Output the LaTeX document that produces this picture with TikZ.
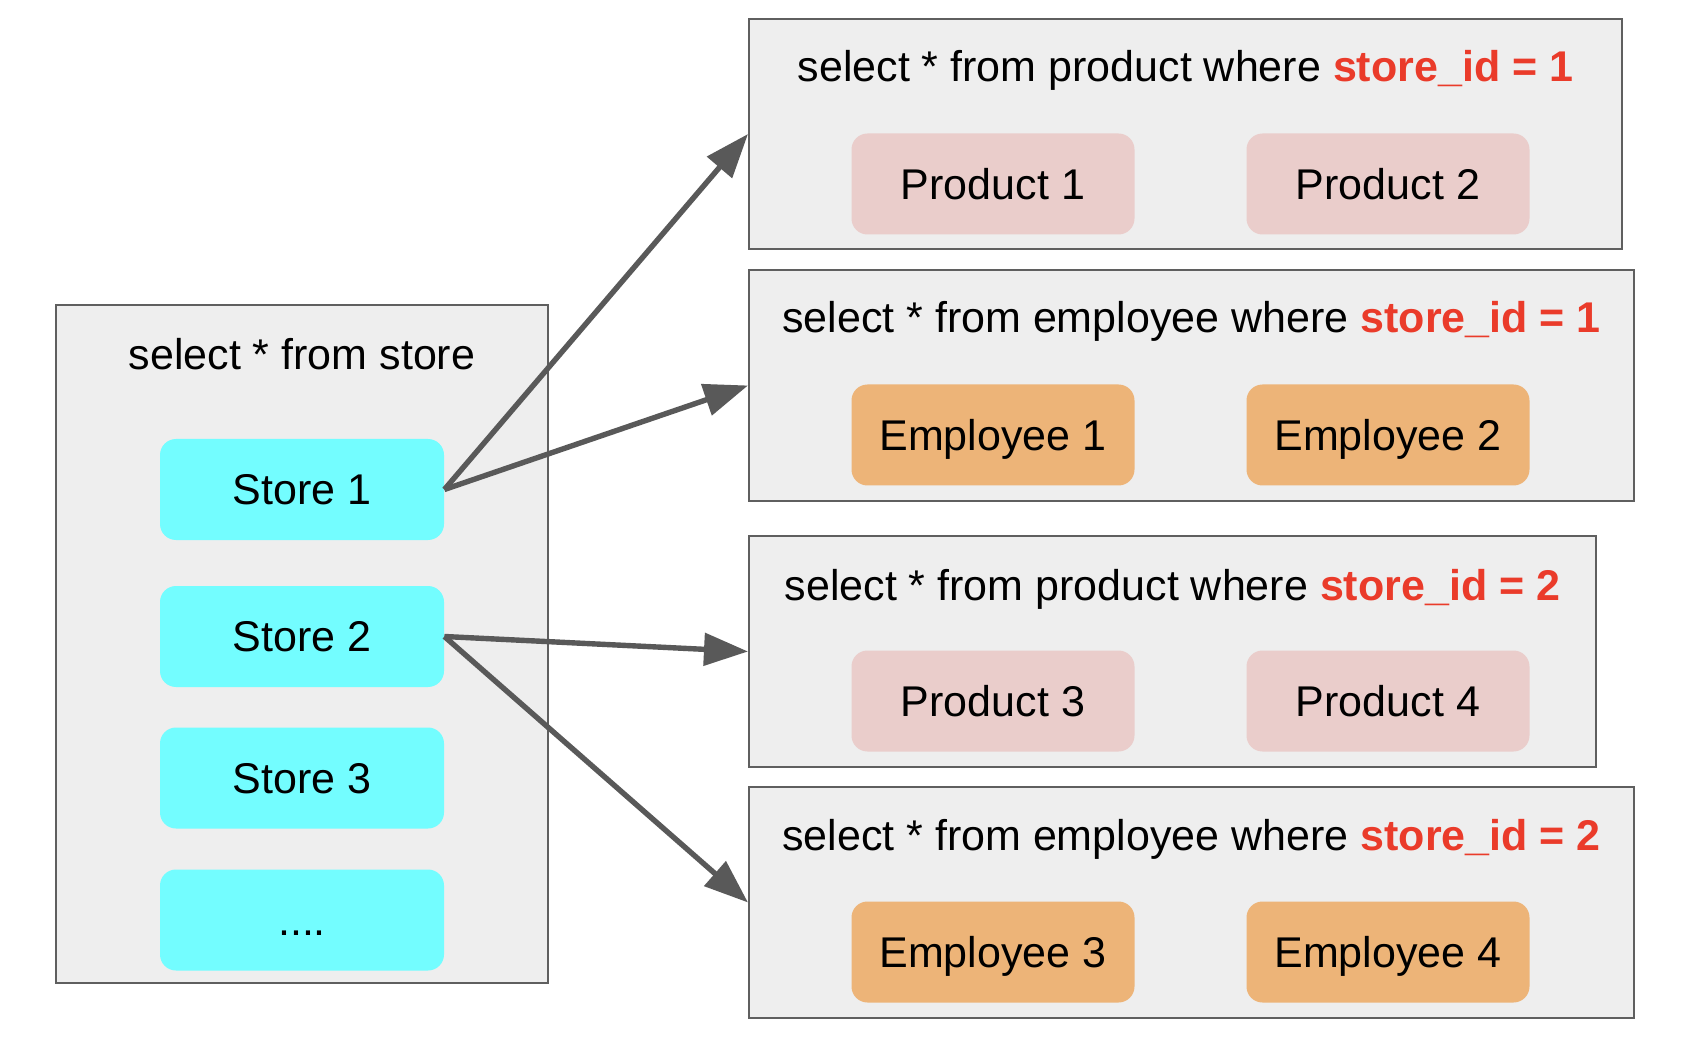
\documentclass[tikz,border=0pt]{standalone}
\usepackage{fontspec}
\setmainfont{Liberation Sans}
\usetikzlibrary{arrows.meta}
\definecolor{boxfill}{HTML}{EEEEEE}
\definecolor{boxline}{HTML}{5F5F5F}
\definecolor{storefill}{HTML}{73FDFF}
\definecolor{prodfill}{HTML}{EACDCB}
\definecolor{empfill}{HTML}{EDB478}
\definecolor{keyred}{HTML}{EA3B2A}
\definecolor{arrowgrey}{HTML}{595959}
\tikzset{
  groupbox/.style={draw=boxline, fill=boxfill, line width=1pt, inner sep=0pt},
  itembox/.style={rounded corners=8pt, inner sep=0pt, minimum width=141.5pt, minimum height=50.5pt,
                  text height=15.4pt, text depth=0pt,
                  font=\fontsize{21.5}{26}\selectfont},
  storebox/.style={itembox, fill=storefill, minimum width=142pt},
  prodbox/.style={itembox, fill=prodfill},
  empbox/.style={itembox, fill=empfill},
  titletext/.style={anchor=base, inner sep=0pt, font=\fontsize{21.5}{26}\selectfont},
  conn/.style={draw=arrowgrey, line width=2.7pt, -{Triangle[length=22pt,width=16pt]}},
}
\newcommand{\redkey}[1]{\textcolor{keyred}{\bfseries #1}}
\begin{document}
\begin{tikzpicture}[x=0.5pt,y=-0.5pt]
\useasboundingbox (0,0) rectangle (1694,1048);
\fill[white] (0,0) rectangle (1694,1048);

% left group
\node[groupbox, minimum width=246pt, minimum height=339pt] (L) at (302,644) {};
\node[titletext] (lt) at (302,370) {select * from store};
\node[storebox] (s1) at (302,489.5) {Store 1};
\node[storebox] (s2) at (302,636.5) {Store 2};
\node[storebox] (s3) at (302,778) {Store 3};
\node[storebox] (s4) at (302,920) {....};

% right groups
\node[groupbox, minimum width=436.5pt, minimum height=115pt] (b1) at (1185.5,134) {};
\node[titletext] (t1) at (1185.5,82) {select * from product where \redkey{store\_id = 1}};
\node[prodbox] (p1) at (993,184) {Product 1};
\node[prodbox] (p2) at (1388,184) {Product 2};

\node[groupbox, minimum width=442.5pt, minimum height=115.5pt] (b2) at (1191.5,385.5) {};
\node[titletext] (t2) at (1191.5,333) {select * from employee where \redkey{store\_id = 1}};
\node[empbox] (e1) at (993,435) {Employee 1};
\node[empbox] (e2) at (1388,435) {Employee 2};

\node[groupbox, minimum width=423.5pt, minimum height=115.5pt] (b3) at (1172.5,651.5) {};
\node[titletext] (t3) at (1172.5,600) {select * from product where \redkey{store\_id = 2}};
\node[prodbox] (p3) at (993,701) {Product 3};
\node[prodbox] (p4) at (1388,701) {Product 4};

\node[groupbox, minimum width=442.5pt, minimum height=115.5pt] (b4) at (1191.5,902.5) {};
\node[titletext] (t4) at (1191.5,850) {select * from employee where \redkey{store\_id = 2}};
\node[empbox] (e3) at (993,952) {Employee 3};
\node[empbox] (e4) at (1388,952) {Employee 4};

% connectors
\draw[conn] (s1.east) -- (b1.west);
\draw[conn] (s1.east) -- (b2.west);
\draw[conn] (s2.east) -- (b3.west);
\draw[conn] (s2.east) -- (b4.west);
\end{tikzpicture}
\end{document}
